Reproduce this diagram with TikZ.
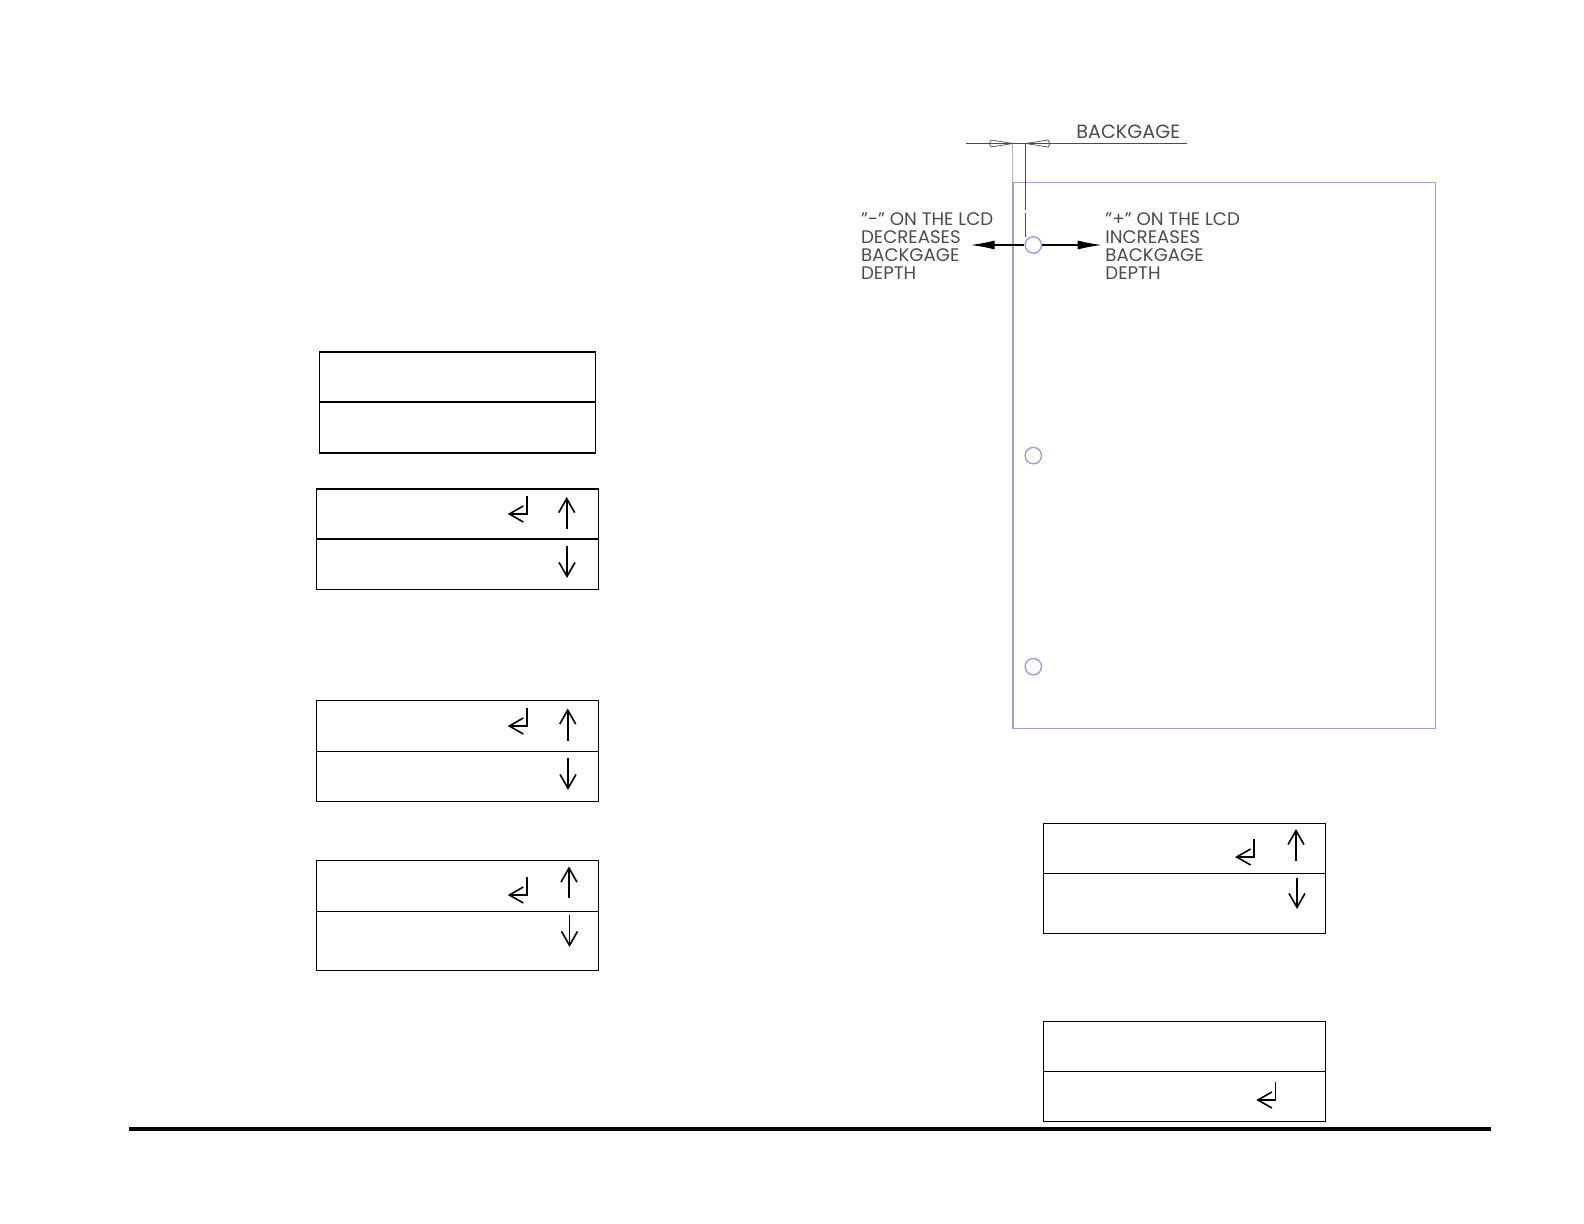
\documentclass[tikz,border=0pt]{standalone}
\usepackage{fontspec}
\setmainfont{Poppins}[Ligatures=ResetAll]
\usepackage{tikz}
\usetikzlibrary{arrows.meta}
\definecolor{sheetblue}{RGB}{160,155,220}
\definecolor{dimgray}{RGB}{75,75,75}
\tikzset{
  lcd/.style={draw=black,line width=.8pt},
  lcdarrow/.style={line width=.8pt,-{Straight Barb[length=7pt,width=8pt]}},
  sheet/.style={draw=sheetblue,line width=.9pt},
  hole/.style={circle,draw=sheetblue,line width=.7pt,minimum size=8.2pt,inner sep=0pt},
  dimline/.style={draw=dimgray,line width=.5pt},
  depth/.style={draw=black,line width=.55pt,-{Latex[length=12pt,width=4.5pt]}},
  note/.style={anchor=north west,align=left,inner sep=0pt,text=dimgray,font=\fontsize{9.1}{9}\selectfont}
}
\begin{document}
\begin{tikzpicture}[x=.5pt,y=-.5pt]
    \useasboundingbox (0,0) rectangle (1584,1224);
    % display boxes
    \draw[lcd] (319.3,352.3) rectangle (595.3,453.3);
    \draw[lcd] (319.3,402.3) -- (595.3,402.3);
    \foreach \t/\m/\b in {489.3/539.3/589.3,700.3/751.3/801.3,860.3/911.3/970.3}
    {
      \draw[lcd] (316.5,\t) rectangle (598.5,\b);
      \draw[lcd] (316.5,\m) -- (598.5,\m);
    }
    \foreach \t/\m/\b in {823.3/873.3/933.3,1021.3/1071.3/1121.3}
    {
      \draw[lcd] (1043.3,\t) rectangle (1325.3,\b);
      \draw[lcd] (1043.3,\m) -- (1325.3,\m);
    }
    % enter arrows
    \foreach \x/\y in {526.7/496,526.7/708,526.7/877,1254/839,1275.3/1082}
    \draw[lcdarrow] (\x,\y) -- +(0,18) -- +(-19,18);
    % up and down arrows
    \foreach \x/\y/\z in {566.7/529/497,567/546/578,567.7/741/708.5,568/757.5/790,569/898/866.5,569.5/915/947,1296/860.5/829,1297/878/909}
    \draw[lcdarrow] (\x,\y) -- (\x,\z);
    % sheet
    \draw[sheet] (1012.7,182.5) rectangle (1435.5,728.5);
    \node[hole] (topHole) at (1033.3,245) {};
    \node[hole] (midHole) at (1033.3,455.6) {};
    \node[hole] (lowHole) at (1033.3,666.7) {};
    % backgage dimension
    \draw[dimline] (966,143.5) -- (1186.7,143.5);
    \draw[draw=gray!60,line width=.5pt] (1012.7,143.5) -- (1012.7,182);
    \draw[dimline] (1025.7,143.5) -- (1025.7,182);
    \draw[dimline,dash pattern=on 14pt off 1.5pt] (1025.7,182) -- (1025.7,237);
    \draw[dimline,line width=.35pt] (1012.7,143.5) -- (991,140) -- (989.5,143.5) -- (991,147) -- cycle;
    \draw[dimline,line width=.35pt] (1025.7,143.5) -- (1048,140) -- (1050,143.5) -- (1048,147) -- cycle;
    \node[note,font=\fontsize{9.6}{9}\selectfont] (backgageLabel) at (1076,125) {BACKGAGE};
    % depth arrows
    \coordinate (minusEnd) at (970.7,245);
    \coordinate (plusEnd) at (1101.7,245);
    \draw[depth] (topHole.west) -- (minusEnd);
    \draw[depth] (topHole.east) -- (plusEnd);
    \node[note] (minusNote) at (860.7,212) {"-" ON THE LCD\\DECREASES\\BACKGAGE\\DEPTH};
    \node[note] (plusNote) at (1105,212) {"+" ON THE LCD\\INCREASES\\BACKGAGE\\DEPTH};
    % footer rule
    \draw[line width=2pt] (129,1128.5) -- (1491,1128.5);
\end{tikzpicture}
\end{document}
